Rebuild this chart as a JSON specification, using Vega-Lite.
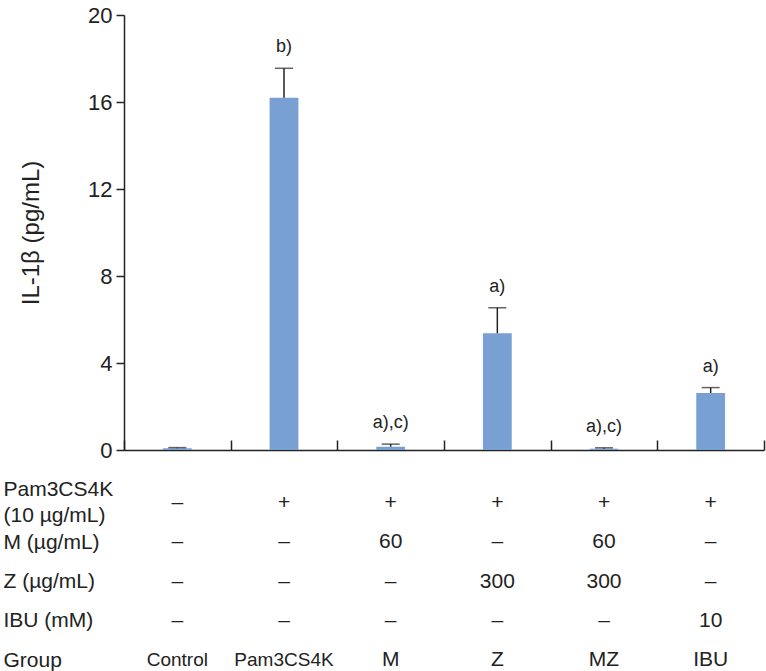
{
  "$schema": "https://vega.github.io/schema/vega-lite/v6.json",
  "padding": {"left": 3, "top": 4, "right": 2, "bottom": 0},
  "config": {"font": "Liberation Sans", "view": {"stroke": null}, "concat": {"spacing": 17}},
  "datasets": {
    "bars": [
      {"group": "Control", "mean": 0.08, "upper": 0.11, "sig": ""},
      {"group": "Pam3CS4K", "mean": 16.2, "upper": 17.55, "sig": "b)"},
      {"group": "M", "mean": 0.15, "upper": 0.27, "sig": "a),c)"},
      {"group": "Z", "mean": 5.37, "upper": 6.54, "sig": "a)"},
      {"group": "MZ", "mean": 0.06, "upper": 0.1, "sig": "a),c)"},
      {"group": "IBU", "mean": 2.62, "upper": 2.87, "sig": "a)"}
    ],
    "table": [
      {"row": "Pam3CS4K", "group": "Control", "text": "–"},
      {"row": "Pam3CS4K", "group": "Pam3CS4K", "text": "+"},
      {"row": "Pam3CS4K", "group": "M", "text": "+"},
      {"row": "Pam3CS4K", "group": "Z", "text": "+"},
      {"row": "Pam3CS4K", "group": "MZ", "text": "+"},
      {"row": "Pam3CS4K", "group": "IBU", "text": "+"},
      {"row": "M (µg/mL)", "group": "Control", "text": "–"},
      {"row": "M (µg/mL)", "group": "Pam3CS4K", "text": "–"},
      {"row": "M (µg/mL)", "group": "M", "text": "60"},
      {"row": "M (µg/mL)", "group": "Z", "text": "–"},
      {"row": "M (µg/mL)", "group": "MZ", "text": "60"},
      {"row": "M (µg/mL)", "group": "IBU", "text": "–"},
      {"row": "Z (µg/mL)", "group": "Control", "text": "–"},
      {"row": "Z (µg/mL)", "group": "Pam3CS4K", "text": "–"},
      {"row": "Z (µg/mL)", "group": "M", "text": "–"},
      {"row": "Z (µg/mL)", "group": "Z", "text": "300"},
      {"row": "Z (µg/mL)", "group": "MZ", "text": "300"},
      {"row": "Z (µg/mL)", "group": "IBU", "text": "–"},
      {"row": "IBU (mM)", "group": "Control", "text": "–"},
      {"row": "IBU (mM)", "group": "Pam3CS4K", "text": "–"},
      {"row": "IBU (mM)", "group": "M", "text": "–"},
      {"row": "IBU (mM)", "group": "Z", "text": "–"},
      {"row": "IBU (mM)", "group": "MZ", "text": "–"},
      {"row": "IBU (mM)", "group": "IBU", "text": "10"},
      {"row": "Group", "group": "Control", "text": "Control"},
      {"row": "Group", "group": "Pam3CS4K", "text": "Pam3CS4K"},
      {"row": "Group", "group": "M", "text": "M"},
      {"row": "Group", "group": "Z", "text": "Z"},
      {"row": "Group", "group": "MZ", "text": "MZ"},
      {"row": "Group", "group": "IBU", "text": "IBU"}
    ]
  },
  "vconcat": [
    {
      "width": 640,
      "height": 435,
      "data": {"name": "bars"},
      "encoding": {
        "x": {
          "field": "group", "type": "nominal", "sort": null,
          "scale": {"paddingInner": 0, "paddingOuter": 0},
          "axis": {"labels": false, "title": null, "tickBand": "extent", "tickSize": -10, "domainColor": "#222", "tickColor": "#222", "domainWidth": 1.5, "tickWidth": 1.5, "grid": false}
        }
      },
      "layer": [
        {
          "mark": {"type": "bar", "color": "#78a0d2", "width": {"band": 0.27}},
          "encoding": {
            "y": {
              "field": "mean", "type": "quantitative",
              "scale": {"domain": [0, 20], "nice": false},
              "axis": {"values": [0, 4, 8, 12, 16, 20], "title": "IL-1β (pg/mL)", "grid": false, "tickSize": 8, "tickWidth": 1.5, "domainWidth": 1.5, "domainColor": "#222", "tickColor": "#222", "labelFontSize": 22, "labelColor": "#222", "labelPadding": 4, "titleFontSize": 24, "titleFontWeight": "normal", "titleColor": "#222", "titlePadding": 44}
            }
          }
        },
        {
          "mark": {"type": "rule", "color": "#222", "strokeWidth": 1.5},
          "encoding": {"y": {"field": "mean", "type": "quantitative"}, "y2": {"field": "upper"}}
        },
        {
          "mark": {"type": "tick", "color": "#222", "thickness": 1.5, "size": 18, "orient": "horizontal"},
          "encoding": {"y": {"field": "upper", "type": "quantitative"}}
        },
        {
          "mark": {"type": "text", "dy": -21, "fontSize": 18, "color": "#222", "baseline": "middle"},
          "encoding": {"y": {"field": "upper", "type": "quantitative"}, "text": {"field": "sig"}}
        }
      ]
    },
    {
      "width": 640,
      "height": 197,
      "data": {"name": "table"},
      "encoding": {
        "x": {"field": "group", "type": "nominal", "sort": ["Control", "Pam3CS4K", "M", "Z", "MZ", "IBU"], "scale": {"paddingInner": 0, "paddingOuter": 0}, "axis": null},
        "y": {
          "field": "row", "type": "nominal",
          "sort": ["Pam3CS4K", "M (µg/mL)", "Z (µg/mL)", "IBU (mM)", "Group"],
          "scale": {"type": "point", "padding": 0.5},
          "axis": {"title": null, "domain": false, "ticks": false, "labelAlign": "left", "labelPadding": 121, "labelFontSize": 21, "labelColor": "#222", "labelLimit": 200,
            "labelExpr": "datum.value == 'Pam3CS4K' ? ['Pam3CS4K', '(10 µg/mL)'] : datum.value", "labelLineHeight": 26,
            "labelOffset": {"condition": {"test": "datum.value == 'Pam3CS4K'", "value": -13}, "value": 0}}
        }
      },
      "layer": [
        {
          "transform": [{"filter": "datum.row != 'Group' || (datum.group != 'Control' && datum.group != 'Pam3CS4K')"}],
          "mark": {"type": "text", "fontSize": 21, "color": "#222", "baseline": "middle"},
          "encoding": {"text": {"field": "text"}}
        },
        {
          "transform": [{"filter": "datum.row == 'Group' && (datum.group == 'Control' || datum.group == 'Pam3CS4K')"}],
          "mark": {"type": "text", "fontSize": 19, "color": "#222", "baseline": "middle"},
          "encoding": {"text": {"field": "text"}}
        }
      ]
    }
  ]
}
